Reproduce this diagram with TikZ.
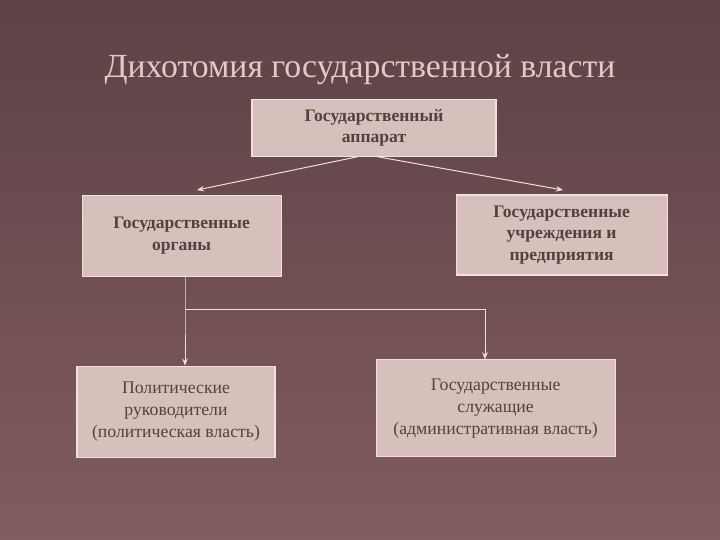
\documentclass[tikz,border=0pt]{standalone}
\usepackage{fontspec}
\setmainfont{Liberation Serif}
\usetikzlibrary{arrows.meta}
\definecolor{bgtop}{RGB}{92,66,70}
\definecolor{bgmid}{RGB}{130,92,94}
\definecolor{bgbot}{RGB}{130,92,94}
\definecolor{boxfill}{RGB}{215,192,187}
\definecolor{boxline}{RGB}{242,224,219}
\definecolor{boxtext}{RGB}{88,62,62}
\definecolor{titletext}{RGB}{226,203,197}
\begin{document}
\begin{tikzpicture}[box/.style = {draw=boxline, line width=0.8pt, fill=boxfill, rectangle, align=center, text=boxtext, font=\fontsize{12.5}{15.2}\selectfont\bfseries}, plain/.style = {box, font=\fontsize{12.6}{15.5}\selectfont}, link/.style = {draw=boxline, line width=0.7pt}, >={Stealth[length=5pt, width=4pt]}]
  \useasboundingbox (0, 0) rectangle (18, -13.5);
  \shade[top color=bgtop, middle color=bgmid, bottom color=bgbot] (0, 0) rectangle (18, -13.5);
  \node[text=titletext, font=\fontsize{24}{28}\selectfont] at (9.0, -1.75) (title) {Дихотомия государственной власти};
  \node[box, minimum width=6.1cm, minimum height=1.425cm] at (9.35, -3.19) (apparatus) {Государственный\\аппарат};
  \node[box, minimum width=4.975cm, minimum height=2.025cm] at (4.54, -5.89) (organs) {Государственные\\органы};
  \node[box, minimum width=5.275cm, minimum height=2.0cm] at (14.04, -5.875) (institutions) {Государственные\\учреждения и\\предприятия};
  \node[plain, minimum width=4.95cm, minimum height=2.275cm] at (4.4, -10.29) (political) {Политические\\руководители\\(политическая власть)};
  \node[plain, minimum width=5.975cm, minimum height=2.425cm] at (12.39, -10.21) (civil) {Государственные\\служащие\\(административная власть)};
  \coordinate (left-start) at (8.95, -3.9);
  \coordinate (right-start) at (9.425, -3.9);
  \coordinate (left-tip) at (4.925, -4.75);
  \coordinate (right-tip) at (14.075, -4.75);
  \coordinate (split) at (4.625, -7.725);
  \coordinate (turn) at (12.125, -7.725);
  \draw[link, ->] (apparatus.south -| left-start) -- (left-tip);
  \draw[link, ->] (apparatus.south -| right-start) -- (right-tip);
  \draw[link, ->] (organs.south -| split) -- (split) -- (political.north -| split);
  \draw[link, ->] (split) -- (turn) -- (civil.north -| turn);
\end{tikzpicture}
\end{document}
